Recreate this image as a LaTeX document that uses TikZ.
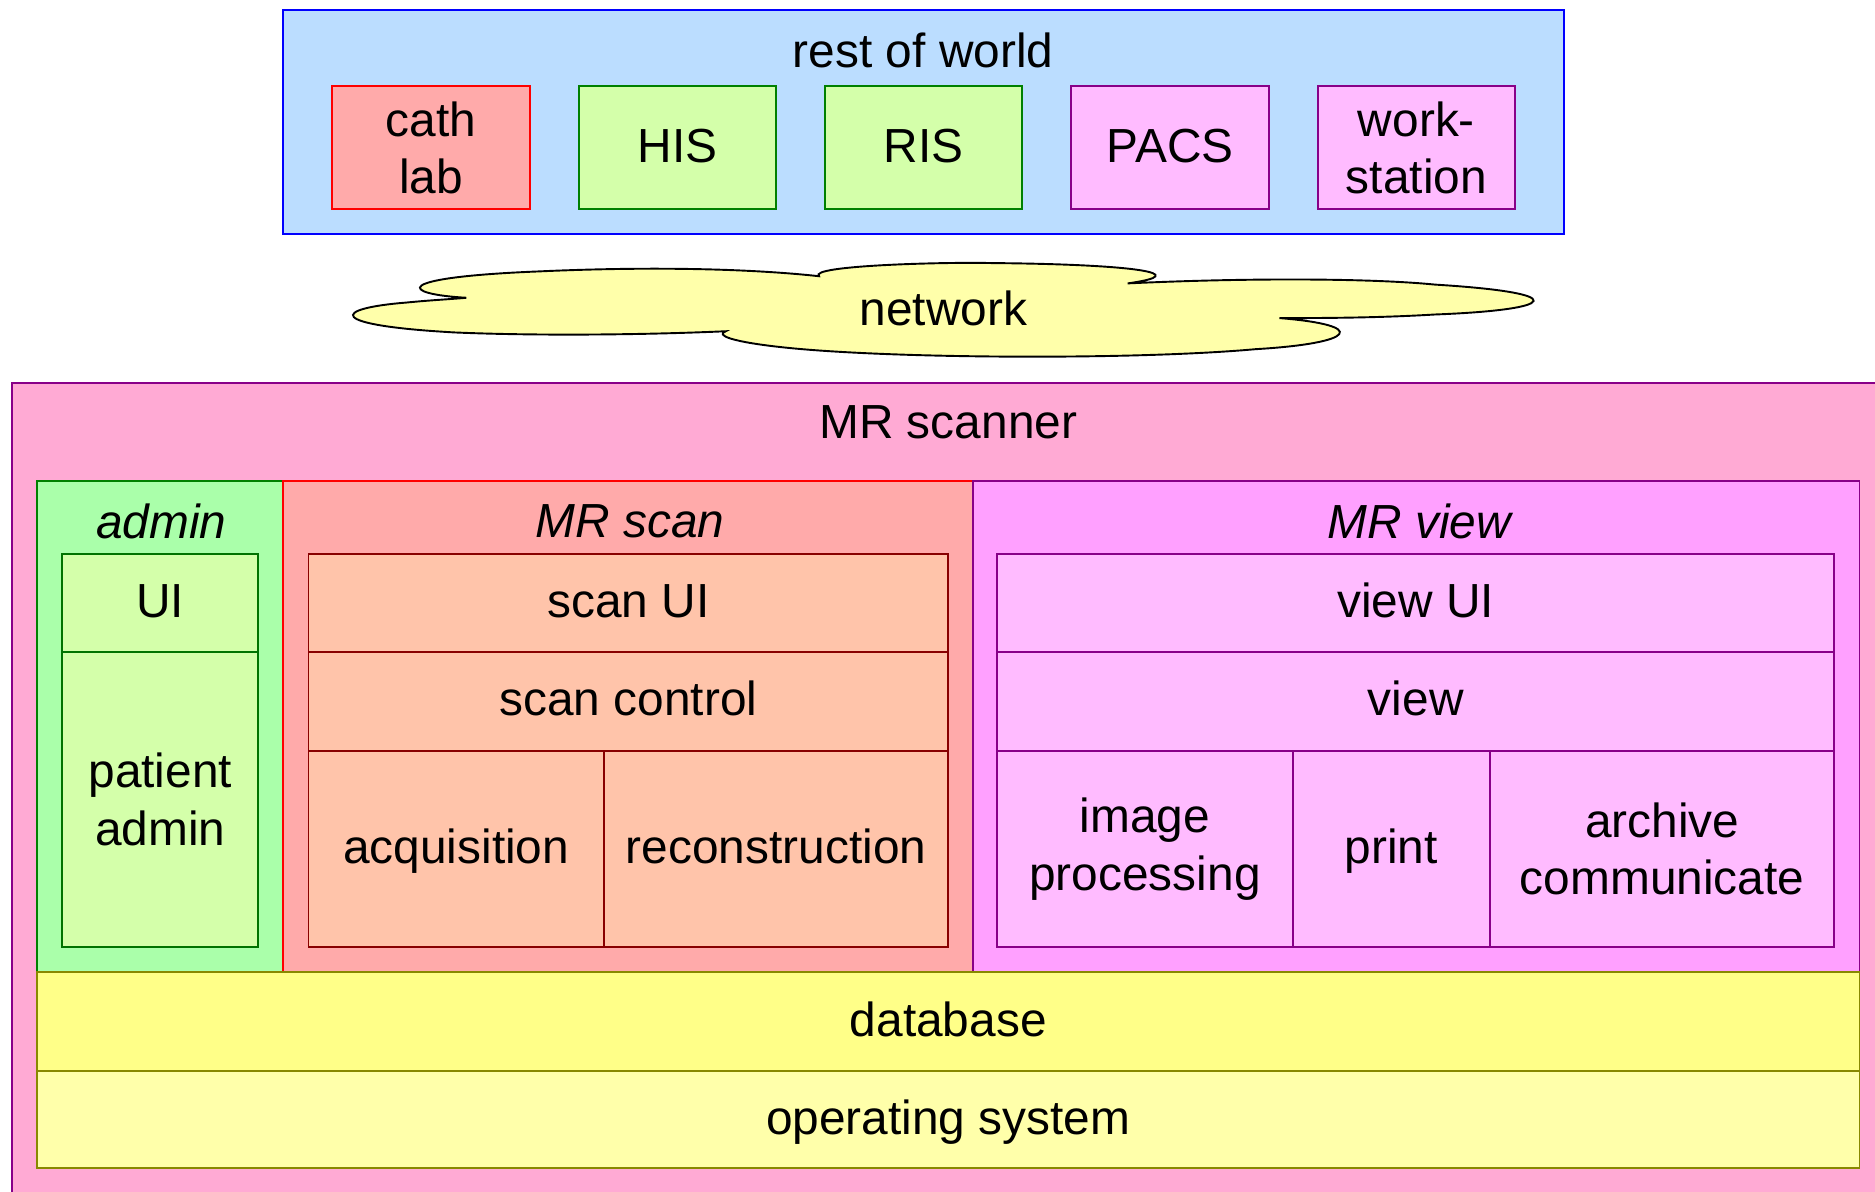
\documentclass[tikz,border=0pt]{standalone}
\usepackage{fontspec}
\setmainfont{Liberation Sans}
\definecolor{rwfill}{HTML}{BBDDFF}
\definecolor{rwline}{HTML}{0000FF}
\definecolor{redfill}{HTML}{FFAAAA}
\definecolor{redline}{HTML}{FF0000}
\definecolor{ltgreen}{HTML}{D4FFAA}
\definecolor{grline}{HTML}{008000}
\definecolor{grfill}{HTML}{AAFFAA}
\definecolor{pkfill}{HTML}{FFBBFF}
\definecolor{puline}{HTML}{880088}
\definecolor{cloudfill}{HTML}{FFFFAA}
\definecolor{mrfill}{HTML}{FFAAD4}
\definecolor{scanfill}{HTML}{FFC4AA}
\definecolor{darkred}{HTML}{880000}
\definecolor{viewfill}{HTML}{FFA0FF}
\definecolor{dbfill}{HTML}{FFFF88}
\definecolor{osfill}{HTML}{FFFFAA}
\definecolor{olive2}{HTML}{888800}
\tikzset{
  rect/.style={draw, rectangle, inner sep=0pt, outer sep=0pt, line width=1.6pt,
    anchor=north west, align=center, font=\fontsize{40}{48}\selectfont},
  oneline/.style={text height=28pt, text depth=4pt},
  ttl/.style={inner sep=0pt, font=\fontsize{40}{48}\selectfont},
  ittl/.style={ttl, font=\fontsize{40}{48}\selectfont\itshape},
  rwbox/.style={rect, fill=rwfill, draw=rwline},
  redbox/.style={rect, fill=redfill, draw=redline},
  greenbox/.style={rect, fill=ltgreen, draw=grline},
  pinkbox/.style={rect, fill=pkfill, draw=puline},
  scanbox/.style={rect, fill=scanfill, draw=darkred},
}
\begin{document}
\begin{tikzpicture}[x=1pt,y=-1pt]
\useasboundingbox (0,0) rectangle (1568,996);
\clip (0,0) rectangle (1568,996);
% rest of world
\node[rwbox, minimum width=1071pt, minimum height=188pt] (rw) at (237,8) {};
\node[ttl] (rwt) at (772,42) {rest of world};
\node[redbox, minimum width=165pt, minimum height=103pt] (cath) at (278,72) {cath\\lab};
\node[greenbox, oneline, minimum width=165pt, minimum height=103pt] (his) at (484,72) {HIS};
\node[greenbox, oneline, minimum width=165pt, minimum height=103pt] (ris) at (690,72) {RIS};
\node[pinkbox, oneline, minimum width=165pt, minimum height=103pt] (pacs) at (896,72) {PACS};
\node[pinkbox, minimum width=165pt, minimum height=103pt] (ws) at (1102,72) {work-\\station};
% network cloud
\draw[fill=cloudfill, line width=1.6pt]
  (390,249) .. controls (335,246) and (325,232) .. (450,227)
  .. controls (560,222) and (640,226) .. (685,231)
  .. controls (675,222) and (790,219) .. (830,220)
  .. controls (950,221) and (1000,229) .. (943,237)
  .. controls (1050,232) and (1150,233) .. (1200,238)
  .. controls (1315,245) and (1305,259) .. (1200,263)
  .. controls (1150,266) and (1100,266) .. (1070,266)
  .. controls (1145,272) and (1135,287) .. (1050,292)
  .. controls (950,301) and (750,300) .. (660,291)
  .. controls (610,286) and (598,280) .. (607,277)
  .. controls (540,280) and (450,281) .. (380,278)
  .. controls (272,272) and (277,258) .. (340,253)
  .. controls (360,251) and (380,250) .. (390,249) -- cycle;
\node[ttl] (net) at (789,258) {network};
% MR scanner
\node[rect, fill=mrfill, draw=puline, minimum width=1700pt, minimum height=800pt] (mr) at (10,320) {};
\node[ttl] (mrt) at (793,353) {MR scanner};
% admin
\node[rect, fill=grfill, draw=grline, minimum width=206pt, minimum height=411pt] (admin) at (31,402) {};
\node[ittl] (admint) at (135,436) {admin};
\node[greenbox, oneline, draw=grline!90!black, minimum width=164pt, minimum height=82pt] (ui) at (52,463) {UI};
\node[greenbox, draw=grline!90!black, minimum width=164pt, minimum height=247pt] (pa) at (52,545) {patient\\admin};
% MR scan
\node[rect, fill=redfill, draw=redline, minimum width=577pt, minimum height=411pt] (mrscan) at (237,402) {};
\node[ittl] (mrscant) at (527,436) {MR scan};
\node[scanbox, oneline, minimum width=535pt, minimum height=82pt] (scanui) at (258,463) {scan UI};
\node[scanbox, oneline, minimum width=535pt, minimum height=83pt] (scanctl) at (258,545) {scan control};
\node[scanbox, oneline, minimum width=247pt, minimum height=164pt] (acq) at (258,628) {acquisition};
\node[scanbox, oneline, minimum width=288pt, minimum height=164pt] (rec) at (505,628) {reconstruction};
% MR view
\node[rect, fill=viewfill, draw=puline, minimum width=741pt, minimum height=411pt] (mrview) at (814,402) {};
\node[ittl] (mrviewt) at (1187,436) {MR view};
\node[pinkbox, oneline, minimum width=700pt, minimum height=82pt] (viewui) at (834,463) {view UI};
\node[pinkbox, oneline, minimum width=700pt, minimum height=83pt] (view) at (834,545) {view};
\node[pinkbox, minimum width=247pt, minimum height=164pt] (ip) at (834,628) {image\\processing};
\node[pinkbox, oneline, minimum width=165pt, minimum height=164pt] (print) at (1081,628) {print};
\node[pinkbox, minimum width=288pt, minimum height=164pt] (arch) at (1246,628) {archive\\communicate};
% database, OS
\node[rect, oneline, fill=dbfill, draw=olive2, minimum width=1524pt, minimum height=83pt] (db) at (31,813) {database};
\node[rect, oneline, fill=osfill, draw=olive2, minimum width=1524pt, minimum height=81pt] (os) at (31,896) {operating system};
\end{tikzpicture}
\end{document}
